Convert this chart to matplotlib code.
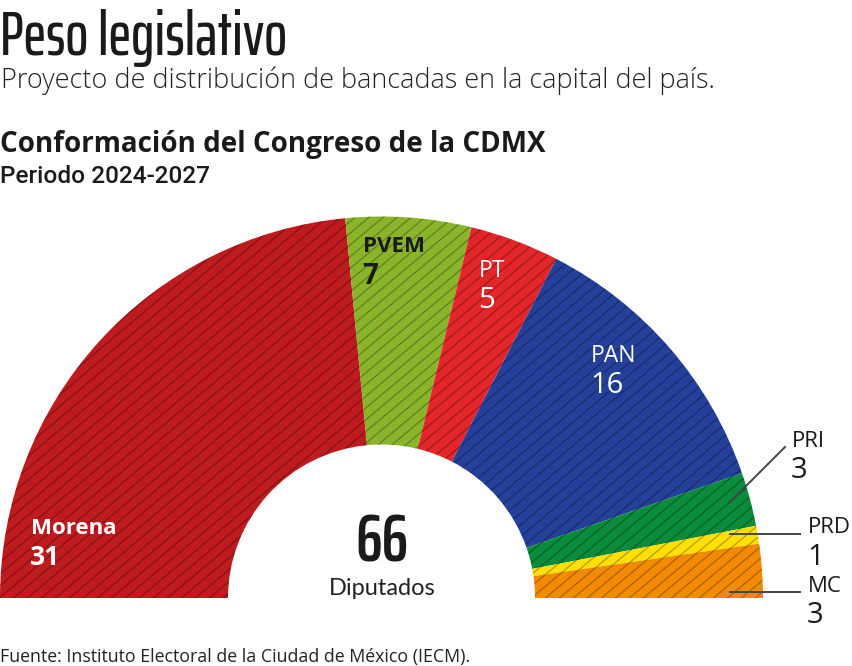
import numpy as np
import matplotlib
matplotlib.use('Agg')
import matplotlib.pyplot as plt
from matplotlib.patches import Wedge
from matplotlib.collections import LineCollection

# ---------------- data ----------------
parties = ['Morena', 'PVEM', 'PT', 'PAN', 'PRI', 'PRD', 'MC']
seats = [31, 7, 5, 16, 3, 1, 3]
colors = ['#BE1B1F', '#8AB52B', '#E3262A', '#24409A', '#0B8B3C', '#FFE000', '#F28B00']
title = 'Peso legislativo'
subtitle = 'Proyecto de distribución de bancadas en la capital del país.'
chart_title = 'Conformación del Congreso de la CDMX'
period = 'Periodo 2024-2027'
center_label = 'Diputados'
source = 'Fuente: Instituto Electoral de la Ciudad de México (IECM).'

# ---------------- layout ----------------
W, H = 853, 666
cx, cy, R, R_in = 381.5, 598.0, 381.5, 153.5

fig = plt.figure(figsize=(W / 100, H / 100), dpi=100)
ax = fig.add_axes([0, 0, 1, 1])
total = sum(seats)

wedges, _ = ax.pie(seats + [total], radius=1, startangle=180, counterclock=False,
                   colors=colors + ['none'],
                   wedgeprops=dict(width=1 - R_in / R, linewidth=0))
ax.set_aspect('auto')
ax.set_xlim(-cx / R, (W - cx) / R)
ax.set_ylim(-(H - cy) / R, cy / R)
ax.axis('off')

# diagonal hatch texture clipped to the half donut
ang = np.deg2rad(40)
d = 9.0 / R
step = d / np.cos(ang)
cs = np.arange(-1.5, 2.2, step)
segs = [[(-1.1, np.tan(ang) * -1.1 + c), (1.1, np.tan(ang) * 1.1 + c)] for c in cs]
lc = LineCollection(segs, colors=[(0, 0, 0, 0.3)], linewidths=0.9)
ax.add_collection(lc)
clip = Wedge((0, 0), 1, 0, 180, width=1 - R_in / R)
clip.set_transform(ax.transData)
lc.set_clip_path(clip)

renderer = fig.canvas.get_renderer()


def ftext(x, y, s, size, **kw):
    return fig.text(x / W, 1 - y / H, s, fontsize=size, va='baseline', **kw)


def fit(x, y, s, width, size0=20, **kw):
    t = ftext(x, y, s, size0, **kw)
    w = t.get_window_extent(renderer).width
    t.set_fontsize(size0 * width / w)
    return t


cond = ['Saira ExtraCondensed', 'Sofia Sans Extra Condensed', 'DejaVu Sans']

# titles
fit(0, 55, title, 287, family=cond, weight='medium', color='#1a1a1a')
fit(1, 88, subtitle, 713, family=['Open Sans', 'DejaVu Sans'], weight='light',
    color='#222222')
fit(0, 152, chart_title, 545, family=['Open Sans', 'DejaVu Sans'], weight='bold',
    color='#1a1a1a')
fit(0, 183, period, 210, family=['Roboto', 'DejaVu Sans'], weight='medium',
    color='#1a1a1a')
fit(0, 662, source, 468, family=['Open Sans', 'DejaVu Sans'], color='#222222')

# centre
fit(355, 562, str(total), 53, family=cond, weight='semibold', color='#1a1a1a')
ftext(382, 595, center_label, 17, family=['Lato', 'DejaVu Sans'], color='#222222',
      ha='center')

# wedge labels (positions = layout)
lab = {
    'Morena': dict(x=31, y=534, y2=565, s1=16, s2=19, weight='bold', color='white'),
    'PVEM': dict(x=363, y=252, y2=284, s1=16, s2=20, weight='bold', color='#1a1a1a'),
    'PT': dict(x=479, y=277, y2=308, s1=16.5, s2=21, weight='normal', color='white'),
    'PAN': dict(x=591, y=362, y2=393, s1=16.5, s2=21, weight='normal', color='white'),
    'PRI': dict(x=792, y=447, y2=478, s1=16, s2=21, weight='normal', color='#1a1a1a'),
    'PRD': dict(x=808, y=533, y2=565, s1=16, s2=21, weight='normal', color='#1a1a1a'),
    'MC': dict(x=808, y=592, y2=623, s1=16, s2=21, weight='normal', color='#1a1a1a'),
}
fam = ['Open Sans', 'DejaVu Sans']
for p, n in zip(parties, seats):
    L = lab[p]
    ftext(L['x'], L['y'], p, L['s1'], family=fam, weight=L['weight'], color=L['color'])
    ftext(L['x'] - 1, L['y2'], str(n), L['s2'], family=fam, weight=L['weight'],
          color=L['color'])

# leader lines for the small parties
leaders = {'PRI': ((730, 502), (785, 447)),
           'PRD': ((730, 534), (800, 534)),
           'MC': ((730, 592), (800, 592))}
for p, (a, b) in leaders.items():
    fig.add_artist(plt.Line2D([a[0] / W, b[0] / W], [1 - a[1] / H, 1 - b[1] / H],
                              color='#444444', lw=1.4, transform=fig.transFigure))

fig.savefig('out.png', dpi=100)
